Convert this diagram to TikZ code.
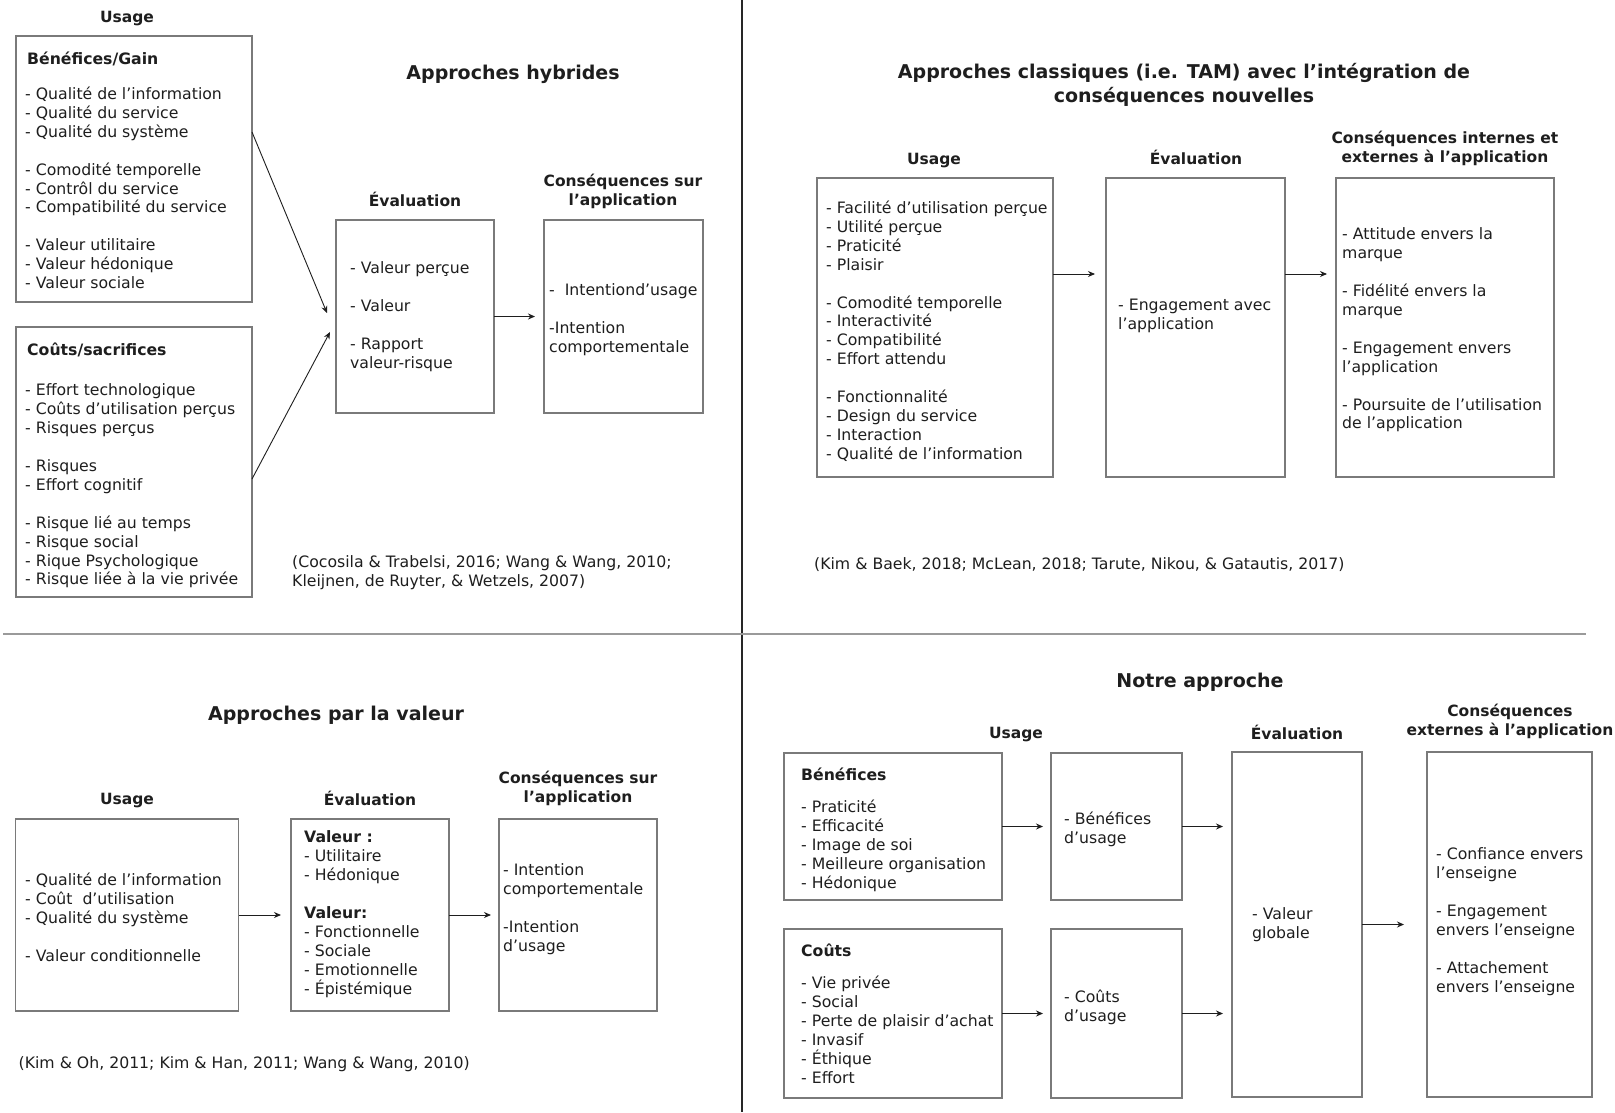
\documentclass[tikz,border=0pt]{standalone}
\usepackage{fontspec}
\setmainfont{DejaVu Sans}
\usetikzlibrary{arrows.meta}
\definecolor{boxgray}{HTML}{7A7A7A}
\definecolor{ink}{HTML}{1E1E1E}
\definecolor{divgray}{HTML}{9A9A9A}
\newcommand{\emptyln}{\strut}
\begin{document}
\begin{tikzpicture}[x=1pt,y=-1pt,
  box/.style={draw=boxgray, line width=1.3pt, inner sep=0pt, outer sep=0pt},
  txt/.style={anchor=north west, inner sep=0pt, align=left, text=ink, yshift=-2pt, font=\fontsize{15.7}{18.9}\selectfont, execute at begin node=\strut},
  btxt/.style={txt, font=\fontsize{15.7}{18.9}\selectfont\bfseries},
  hd/.style={anchor=north, inner sep=0pt, align=center, text=ink, font=\fontsize{15.5}{18.9}\selectfont\bfseries, execute at begin node=\strut},
  ttl/.style={anchor=north, inner sep=0pt, align=center, text=ink, font=\fontsize{19}{24}\selectfont\bfseries, execute at begin node=\strut},
  arr/.style={-{Stealth[length=7pt,width=6pt]}, line width=0.9pt, draw=ink}
]
\fill[white] (0,0) rectangle (1615,1112);
\useasboundingbox (0,0) rectangle (1615,1112);

% dividers
\draw[line width=1.4pt, draw=black!85] (742,0) -- (742,1112);
\draw[line width=2pt, draw=divgray] (3,634) -- (1586,634);

% ================= Panel 1 : Approches hybrides =================
\node[ttl] (t1) at (513,62.7) {Approches hybrides};
\node[hd] (h1u) at (127,8.8) {Usage};
\node[box, minimum width=236pt, minimum height=266pt] (ben) at (134,169) {};
\node[btxt] (ben-h) at (27,48.8) {Bénéfices/Gain};
\node[txt] (ben-t) at (25,84.8) {- Qualité de l’information\\- Qualité du service\\- Qualité du système\\\emptyln\\- Comodité temporelle\\- Contrôl du service\\- Compatibilité du service\\\emptyln\\- Valeur utilitaire\\- Valeur hédonique\\- Valeur sociale};
\node[box, minimum width=236pt, minimum height=270pt] (couts) at (134,462) {};
\node[btxt] (couts-h) at (27,339.8) {Coûts/sacrifices};
\node[txt] (couts-t) at (25,381.8) {- Effort technologique\\- Coûts d’utilisation perçus\\- Risques perçus\\\emptyln\\- Risques\\- Effort cognitif\\\emptyln\\- Risque lié au temps\\- Risque social\\- Rique Psychologique\\- Risque liée à la vie privée};
\node[hd] (h1e) at (415,191.8) {Évaluation};
\node[box, minimum width=158pt, minimum height=193pt] (eval1) at (415,316.5) {};
\node[txt] (eval1-t) at (350,259.8) {- Valeur perçue\\\emptyln\\- Valeur\\\emptyln\\- Rapport\\valeur-risque};
\node[hd] (h1c) at (623,173.8) {Conséquences sur\\l’application};
\node[box, minimum width=159pt, minimum height=193pt] (cons1) at (623.5,316.5) {};
\node[txt] (cons1-t) at (549,281.8) {-\ \ Intentiond’usage\\\emptyln\\-Intention\\comportementale};
\node[txt] (cit1) at (292,553.8) {(Cocosila \& Trabelsi, 2016; Wang \& Wang, 2010;\\Kleijnen, de Ruyter, \& Wetzels, 2007)};
\coordinate (in1a) at (327,313);
\coordinate (in1b) at (330,332);
\draw[arr] ([yshift=37pt]ben.east) -- (in1a);
\draw[arr] ([yshift=-17pt]couts.east) -- (in1b);
\draw[arr, shorten >=9pt] (eval1.east) -- (cons1.west);

% ================= Panel 2 : Approches classiques =================
\node[ttl] (t2) at (1184,62.7) {Approches classiques (i.e. TAM) avec l’intégration de\\conséquences nouvelles};
\node[hd] (h2u) at (934,150.8) {Usage};
\node[box, minimum width=236pt, minimum height=299pt] (use2) at (935,327.5) {};
\node[txt] (use2-t) at (826,198.8) {- Facilité d’utilisation perçue\\- Utilité perçue\\- Praticité\\- Plaisir\\\emptyln\\- Comodité temporelle\\- Interactivité\\- Compatibilité\\- Effort attendu\\\emptyln\\- Fonctionnalité\\- Design du service\\- Interaction\\- Qualité de l’information};
\node[hd] (h2e) at (1196,149.8) {Évaluation};
\node[box, minimum width=179pt, minimum height=299pt] (eval2) at (1195.5,327.5) {};
\node[txt] (eval2-t) at (1118,296.8) {- Engagement avec\\l’application};
\node[hd] (h2c) at (1445,130.8) {Conséquences internes et\\externes à l’application};
\node[box, minimum width=218pt, minimum height=299pt] (cons2) at (1445,327.5) {};
\node[txt] (cons2-t) at (1342,225.8) {- Attitude envers la\\marque\\\emptyln\\- Fidélité envers la\\marque\\\emptyln\\- Engagement envers\\l’application\\\emptyln\\- Poursuite de l’utilisation\\de l’application};
\node[txt] (cit2) at (814,553.8) {(Kim \& Baek, 2018; McLean, 2018; Tarute, Nikou, \& Gatautis, 2017)};
\draw[arr, shorten >=11pt] ([yshift=53.5pt]use2.east) -- ([yshift=53.5pt]eval2.west);
\draw[arr, shorten >=9pt] ([yshift=53.5pt]eval2.east) -- ([yshift=53.5pt]cons2.west);

% ================= Panel 3 : Approches par la valeur =================
\node[ttl] (t3) at (336,703.7) {Approches par la valeur};
\node[hd] (h3u) at (127,790.8) {Usage};
\node[box, minimum width=223pt, minimum height=192pt] (use3) at (127,915) {};
\node[txt] (use3-t) at (25,870.8) {- Qualité de l’information\\- Coût\ \ d’utilisation\\- Qualité du système\\\emptyln\\- Valeur conditionnelle};
\node[hd] (h3e) at (370,790.8) {Évaluation};
\node[box, minimum width=158pt, minimum height=192pt] (eval3) at (370,915) {};
\node[txt] (eval3-t) at (304,828.8) {\textbf{Valeur :}\\- Utilitaire\\- Hédonique\\\emptyln\\\textbf{Valeur:}\\- Fonctionnelle\\- Sociale\\- Emotionnelle\\- Épistémique};
\node[hd] (h3c) at (578,770.8) {Conséquences sur\\l’application};
\node[box, minimum width=158pt, minimum height=192pt] (cons3) at (578,915) {};
\node[txt] (cons3-t) at (503,861.8) {- Intention\\comportementale\\\emptyln\\-Intention\\d’usage};
\node[txt] (cit3) at (18.5,1052.8) {(Kim \& Oh, 2011; Kim \& Han, 2011; Wang \& Wang, 2010)};
\draw[arr, shorten >=10pt] (use3.east) -- (eval3.west);
\draw[arr, shorten >=8pt] (eval3.east) -- (cons3.west);

% ================= Panel 4 : Notre approche =================
\node[ttl] (t4) at (1200,670.7) {Notre approche};
\node[hd] (h4u) at (1016,724.8) {Usage};
\node[box, minimum width=218pt, minimum height=147pt] (ben4) at (893,826.5) {};
\node[btxt] (ben4-h) at (801,764.8) {Bénéfices};
\node[txt] (ben4-t) at (801,797.8) {- Praticité\\- Efficacité\\- Image de soi\\- Meilleure organisation\\- Hédonique};
\node[box, minimum width=131pt, minimum height=147pt] (bu) at (1116.5,826.5) {};
\node[txt] (bu-t) at (1064,809.8) {- Bénéfices\\d’usage};
\node[box, minimum width=218pt, minimum height=169pt] (cost4) at (893,1013.5) {};
\node[btxt] (cost4-h) at (801,940.8) {Coûts};
\node[txt] (cost4-t) at (801,973.8) {- Vie privée\\- Social\\- Perte de plaisir d’achat\\- Invasif\\- Éthique\\- Effort};
\node[box, minimum width=131pt, minimum height=169pt] (cu) at (1116.5,1013.5) {};
\node[txt] (cu-t) at (1064,987.8) {- Coûts\\d’usage};
\node[hd] (h4e) at (1297,724.8) {Évaluation};
\node[box, minimum width=130pt, minimum height=345pt] (eval4) at (1297,924.5) {};
\node[txt] (eval4-t) at (1252,905.8) {- Valeur\\globale};
\node[hd] (h4c) at (1510,703.8) {Conséquences\\externes à l’application};
\node[box, minimum width=165pt, minimum height=345pt] (cons4) at (1509.5,924.5) {};
\node[txt] (cons4-t) at (1436,845.8) {- Confiance envers\\l’enseigne\\\emptyln\\- Engagement\\envers l’enseigne\\\emptyln\\- Attachement\\envers l’enseigne};
\draw[arr, shorten >=8pt] (ben4.east) -- (bu.west);
\draw[arr, shorten >=9pt] (bu.east) -- (bu.east -| eval4.west);
\draw[arr, shorten >=8pt] (cost4.east) -- (cu.west);
\draw[arr, shorten >=9pt] (cu.east) -- (cu.east -| eval4.west);
\draw[arr, shorten >=23pt] (eval4.east) -- (cons4.west);
\end{tikzpicture}
\end{document}
